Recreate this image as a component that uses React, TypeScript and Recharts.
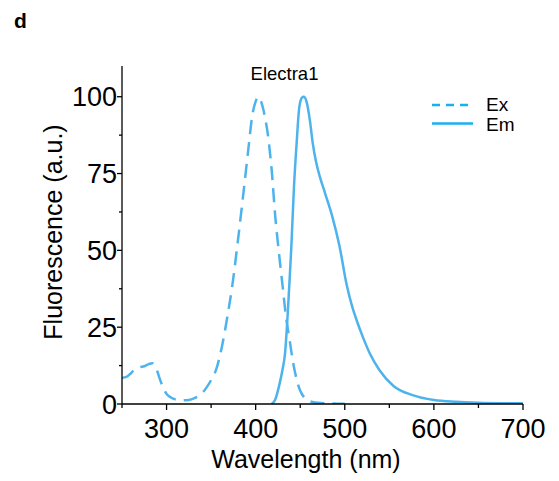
import { LineChart, Line, XAxis, YAxis, Legend } from 'recharts'

// excitation spectrum (dashed)
const exNm = [250, 255, 260, 265, 270, 275, 280, 284, 288, 292, 296, 300, 305, 310, 318, 325, 332, 338, 344, 350, 356, 362, 368, 374, 380, 386, 392, 396, 400, 403, 406, 410, 414, 418, 422, 426, 430, 434, 438, 442, 446, 450, 455, 460, 470, 485, 500]
const exVal = [8.5, 8.8, 10, 11.5, 12, 12.3, 13, 13.3, 12, 8.5, 5.5, 3.3, 2.1, 1.5, 1.2, 1.3, 2, 3, 5, 7.8, 11.5, 18.5, 28, 39, 53, 68, 83.5, 93.5, 98.5, 100, 98.5, 94, 87, 76, 61, 49.5, 39, 28.5, 21, 13.5, 8, 4.3, 2, 1, 0.4, 0.15, 0.05]

// emission spectrum (solid)
const emNm = [418, 422, 427, 430, 433, 436, 438, 440, 443, 446, 449, 452, 454, 457, 461, 464, 468, 472, 478, 486, 494, 502, 508, 513, 520, 528, 539, 555, 576, 600, 625, 650, 675, 700]
const emVal = [0, 1.5, 6.8, 11, 16.6, 29.6, 40, 51, 70.7, 85, 96.7, 99.7, 100, 98.5, 92, 85, 78.5, 74, 68.5, 61, 51.5, 39, 32, 27.5, 22, 16.5, 11, 5.8, 2.9, 1.3, 0.7, 0.4, 0.25, 0.2]

const xTicks = [250, 300, 350, 400, 450, 500, 550, 600, 650, 700]
const xLabels = [300, 400, 500, 600, 700]
const yTicks = [0, 12.5, 25, 37.5, 50, 62.5, 75, 87.5, 100]
const yLabels = [0, 25, 50, 75, 100]

const exData = exNm.map((nm, i) => ({ nm, v: exVal[i] }))
const emData = emNm.map((nm, i) => ({ nm, v: emVal[i] }))

const CURVE = '#4DB3EC'
const LEGEND = '#17B0F0'
const FONT = 'Liberation Sans, Arial, sans-serif'

const XTick = (props: any) => {
  const { x, y, payload } = props
  const major = xLabels.includes(payload.value)
  return (
    <g>
      <line x1={x} x2={x} y1={y} y2={y + (major ? 6 : 4)} stroke="#000" strokeWidth={1.3} />
      {major && (
        <text x={x} y={y + 34} textAnchor="middle" fontSize={27} fontFamily={FONT} fill="#000">
          {payload.value}
        </text>
      )}
    </g>
  )
}

const YTick = (props: any) => {
  const { x, y, payload } = props
  const major = yLabels.includes(payload.value)
  return (
    <g>
      <line x1={x} x2={x - (major ? 5 : 3)} y1={y} y2={y} stroke="#000" strokeWidth={1.3} />
      {major && (
        <text x={x - 5} y={y} dy="0.36em" textAnchor="end" fontSize={27} fontFamily={FONT} fill="#000">
          {payload.value}
        </text>
      )}
    </g>
  )
}

const renderLegend = () => (
  <svg width={110} height={50} style={{ display: 'block' }}>
    <line x1={7} x2={45} y1={13} y2={13} stroke={LEGEND} strokeWidth={2.5} strokeDasharray="8 6" />
    <text x={61} y={18.5} fontSize={19} fontFamily={FONT} fill="#000">Ex</text>
    <line x1={7} x2={48} y1={31.5} y2={31.5} stroke={LEGEND} strokeWidth={2.5} />
    <text x={61} y={39} fontSize={19} fontFamily={FONT} fill="#000">Em</text>
  </svg>
)

export default function App() {
  return (
    <div style={{ position: 'absolute', left: 0, top: 0, width: 559, height: 481, background: '#fff' }}>
      <LineChart
        width={559}
        height={481}
        margin={{ top: 66, right: 36, bottom: 47, left: 63 }}
      >
        <XAxis
          dataKey="nm"
          type="number"
          domain={[250, 700]}
          ticks={xTicks}
          interval={0}
          allowDataOverflow
          height={30}
          tickSize={0}
          tickMargin={0}
          tickLine={false}
          tick={<XTick />}
          axisLine={{ stroke: '#000', strokeWidth: 1.3 }}
        />
        <YAxis
          type="number"
          domain={[0, 110]}
          ticks={yTicks}
          interval={0}
          allowDataOverflow
          width={59}
          tickSize={0}
          tickMargin={0}
          tickLine={false}
          tick={<YTick />}
          axisLine={{ stroke: '#000', strokeWidth: 1.3 }}
        />
        <Legend
          layout="vertical"
          align="center"
          verticalAlign="middle"
          content={renderLegend}
          wrapperStyle={{ position: 'absolute', left: 425, top: 92, width: 110, height: 50 }}
        />
        <Line
          data={exData}
          dataKey="v"
          name="Ex"
          type="monotone"
          stroke={CURVE}
          strokeWidth={2.5}
          strokeDasharray="14 8"
          dot={false}
          isAnimationActive={false}
        />
        <Line
          data={emData}
          dataKey="v"
          name="Em"
          type="monotone"
          stroke={CURVE}
          strokeWidth={2.5}
          dot={false}
          isAnimationActive={false}
        />
      </LineChart>
      <svg
        width={559}
        height={481}
        style={{ position: 'absolute', left: 0, top: 0, pointerEvents: 'none' }}
      >
        <text x={14} y={28} fontSize={21} fontWeight="bold" fontFamily={FONT} fill="#000">d</text>
        <text x={284.5} y={80} textAnchor="middle" fontSize={18.5} fontFamily={FONT} fill="#000">Electra1</text>
        <text x={306} y={468} textAnchor="middle" fontSize={25} fontFamily={FONT} fill="#000">Wavelength (nm)</text>
        <text
          x={62}
          y={232}
          textAnchor="middle"
          fontSize={25}
          fontFamily={FONT}
          fill="#000"
          transform="rotate(-90, 62, 232)"
        >
          Fluorescence (a.u.)
        </text>
      </svg>
    </div>
  )
}
